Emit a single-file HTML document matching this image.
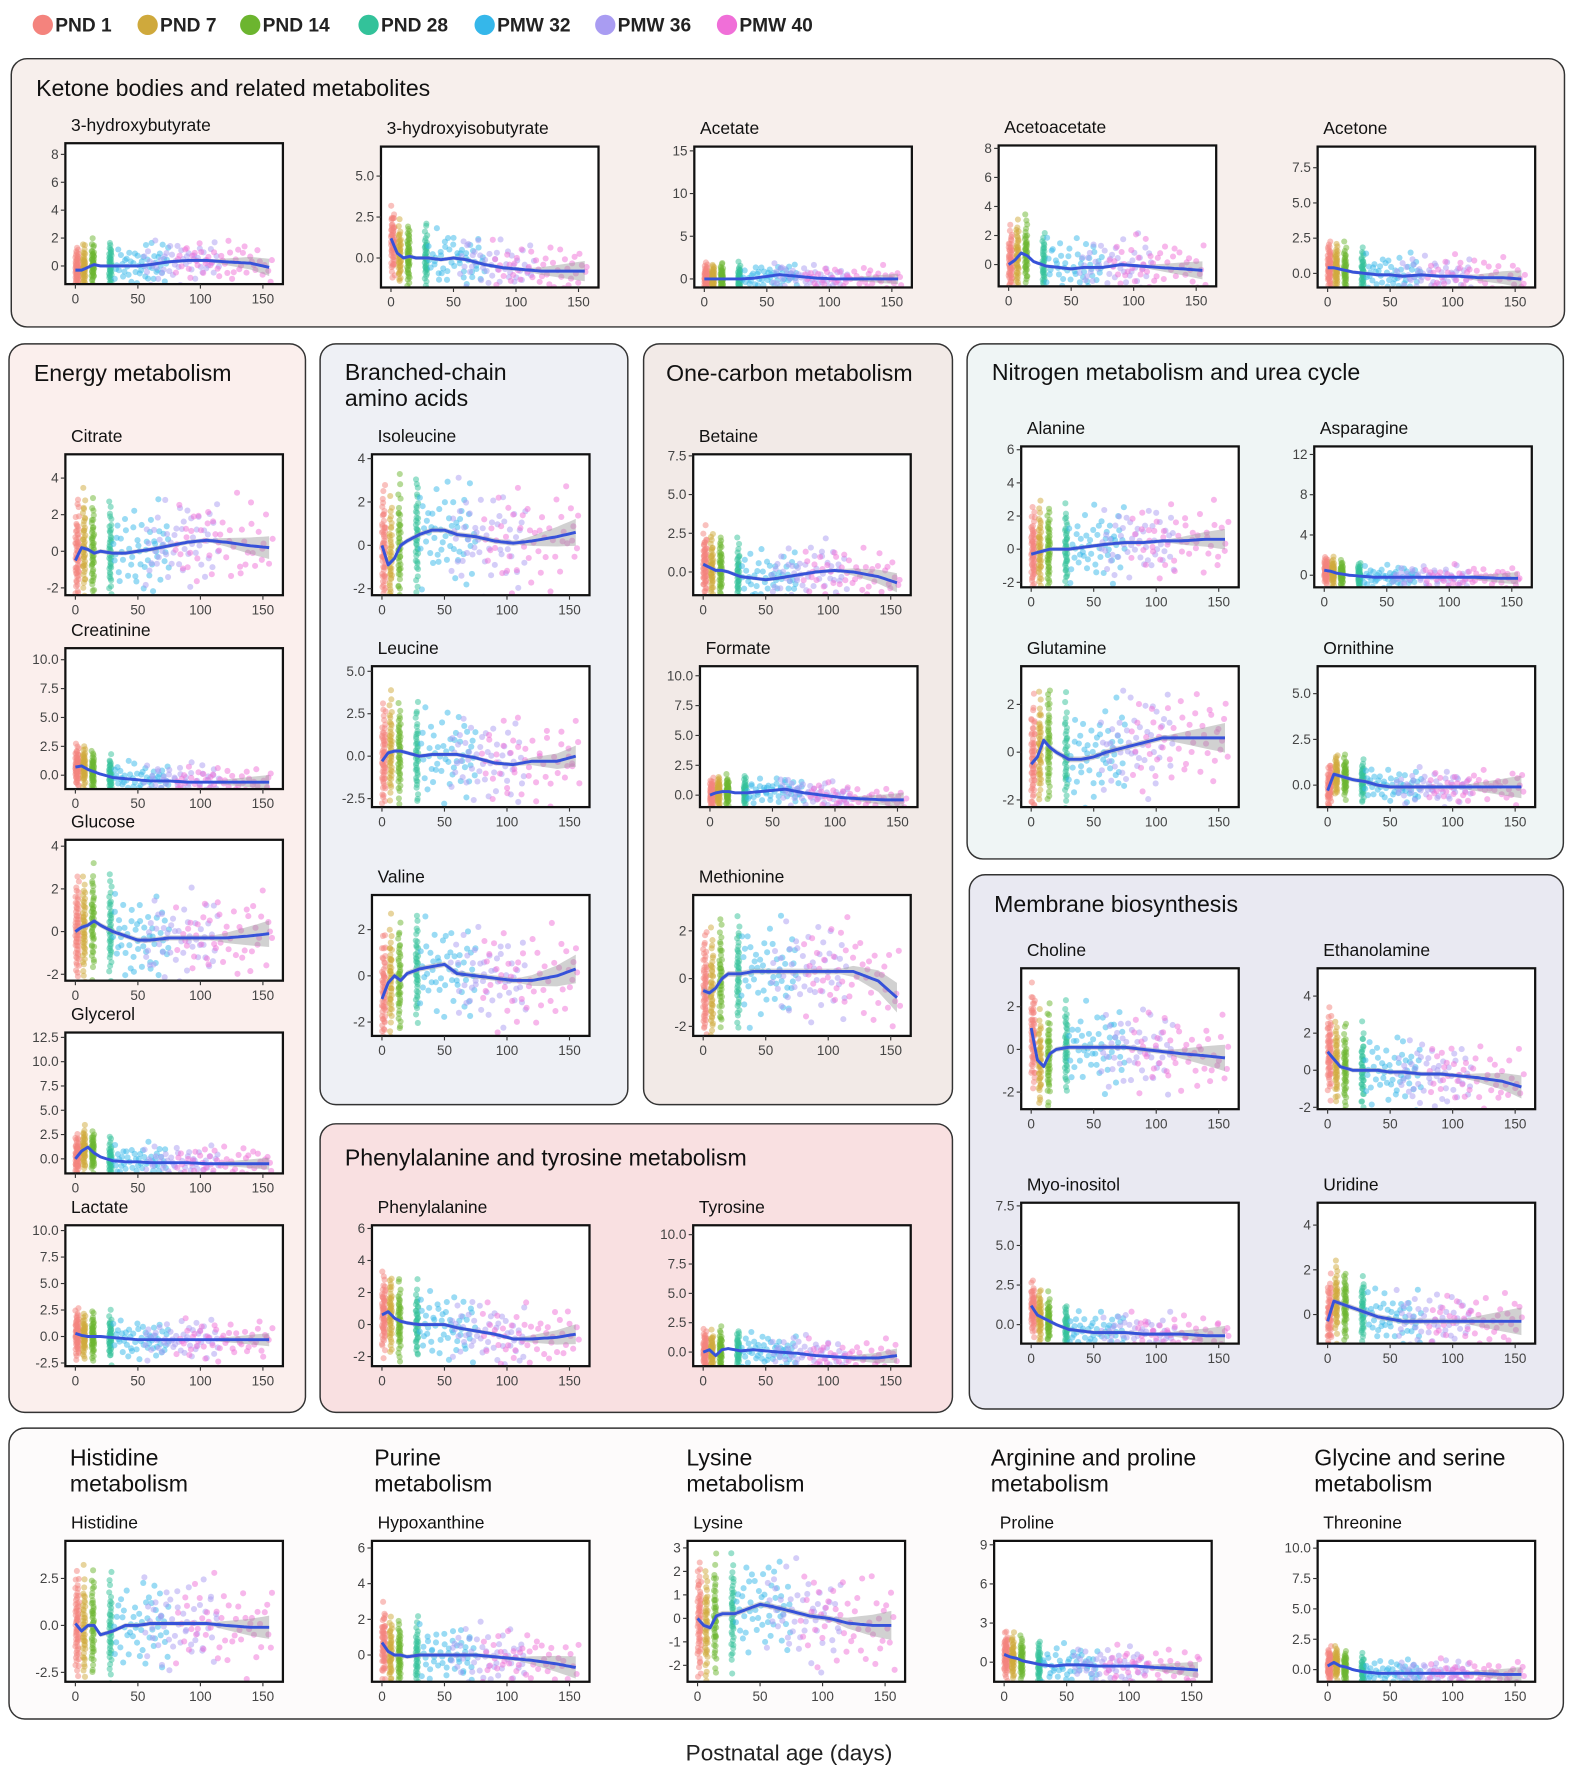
<!DOCTYPE html>
<html><head><meta charset="utf-8"><title>Metabolite trajectories</title>
<style>
html,body{margin:0;padding:0;background:#fff}
svg{display:block;font-family:"Liberation Sans",Arial,sans-serif}
</style></head>
<body>
<svg id="fig" xmlns="http://www.w3.org/2000/svg" width="1578" height="1772" viewBox="0 0 1400 1572">
<rect x="0" y="0" width="1400" height="1572" fill="#fff"/>
<g id="legend"></g>
<g id="panels"></g>
<g id="charts"></g>
<text x="700" y="1562" text-anchor="middle" font-size="20" fill="#222">Postnatal age (days)</text>
</svg>
<script>
const groupNames = ["PND 1","PND 7","PND 14","PND 28","PMW 32","PMW 36","PMW 40"];
const groupColors = ["#f4837d","#cfa93c","#6cb52f","#33c29a","#35b7ea","#a99cf2","#f06fd8"];
const groupAgeLo = [0,6,13,27,30,55,80];
const groupAgeHi = [3,8,15,29,75,115,158];
const groupCounts = [60,45,45,40,50,50,50];
const trendAges = [0,5,10,15,20,30,40,50,60,75,90,105,120,140,155];

const chartNames = ["3-hydroxybutyrate","3-hydroxyisobutyrate","Acetate","Acetoacetate","Acetone","Citrate","Creatinine","Glucose","Glycerol","Lactate","Isoleucine","Leucine","Valine","Betaine","Formate","Methionine","Phenylalanine","Tyrosine","Alanine","Asparagine","Glutamine","Ornithine","Choline","Ethanolamine","Myo-inositol","Uridine","Histidine","Hypoxanthine","Lysine","Proline","Threonine"];
const yDomains = [[-1.3,8.8],[-1.8,6.8],[-1,15.5],[-1.5,8.2],[-1,9],[-2.4,5.3],[-1.2,11],[-2.3,4.3],[-1.5,13],[-2.8,10.5],[-2.3,4.2],[-3,5.3],[-2.6,3.5],[-1.5,7.6],[-1,10.8],[-2.4,3.5],[-2.6,6.2],[-1.2,10.8],[-2.3,6.2],[-1.2,12.8],[-2.3,3.6],[-1.2,6.5],[-2.8,3.8],[-2.1,5.5],[-1.2,7.7],[-1.3,5],[-3,4.5],[-1.5,6.4],[-2.7,3.3],[-1.5,9.3],[-1,10.6]];
const yTicks = [[0,2,4,6,8],[0,2.5,5],[0,5,10,15],[0,2,4,6,8],[0,2.5,5,7.5],[-2,0,2,4],[0,2.5,5,7.5,10],[-2,0,2,4],[0,2.5,5,7.5,10,12.5],[-2.5,0,2.5,5,7.5,10],[-2,0,2,4],[-2.5,0,2.5,5],[-2,0,2],[0,2.5,5,7.5],[0,2.5,5,7.5,10],[-2,0,2],[-2,0,2,4,6],[0,2.5,5,7.5,10],[-2,0,2,4,6],[0,4,8,12],[-2,0,2],[0,2.5,5],[-2,0,2],[-2,0,2,4],[0,2.5,5,7.5],[0,2,4],[-2.5,0,2.5],[0,2,4,6],[-2,-1,0,1,2,3],[0,3,6,9],[0,2.5,5,7.5,10]];
const trends = [
[-0.3,-0.3,-0.1,0.1,0,0,0,0,0.1,0.3,0.4,0.4,0.3,0.2,-0.1],
[1.2,0.3,0,0.1,0,0,-0.1,0,-0.1,-0.4,-0.6,-0.7,-0.8,-0.8,-0.8],
[0,0,0,0,0,0,0.1,0.3,0.5,0.3,0.1,0,0,0,0],
[0,0.3,0.8,0.6,0.2,-0.1,-0.2,-0.3,-0.2,-0.2,0,-0.1,-0.2,-0.3,-0.4],
[0.4,0.4,0.3,0.2,0.1,0,-0.1,-0.1,-0.2,-0.1,-0.2,-0.2,-0.3,-0.3,-0.4],
[-0.5,0.2,0.1,-0.1,0,-0.1,-0.1,0,0.1,0.3,0.5,0.6,0.5,0.3,0.2],
[0.7,0.8,0.5,0.3,0.1,-0.2,-0.3,-0.4,-0.5,-0.5,-0.6,-0.6,-0.6,-0.6,-0.6],
[0,0.2,0.3,0.5,0.3,0,-0.2,-0.4,-0.4,-0.3,-0.3,-0.3,-0.3,-0.2,-0.1],
[0,0.8,1.2,0.6,0.2,-0.2,-0.3,-0.3,-0.4,-0.4,-0.4,-0.5,-0.5,-0.5,-0.5],
[0.3,0.1,0,0,0,-0.1,-0.2,-0.3,-0.3,-0.3,-0.3,-0.3,-0.3,-0.3,-0.3],
[0,-0.9,-0.6,0,0.2,0.5,0.7,0.7,0.5,0.4,0.2,0.1,0.2,0.4,0.6],
[-0.3,0.2,0.3,0.3,0.2,0,0.1,0.1,0.1,-0.1,-0.4,-0.5,-0.3,-0.3,0],
[-1,-0.3,0,-0.2,0.1,0.3,0.4,0.5,0.1,0,-0.1,-0.2,-0.2,0,0.3],
[0.5,0.3,0.1,0.1,0,-0.3,-0.4,-0.5,-0.4,-0.2,0,0.1,0,-0.3,-0.7],
[0,0.2,0.3,0.3,0.2,0.2,0.3,0.4,0.5,0.2,0,-0.2,-0.3,-0.4,-0.4],
[-0.5,-0.6,-0.4,0,0.2,0.2,0.3,0.3,0.3,0.3,0.3,0.3,0.3,-0.1,-0.8],
[0.6,0.8,0.4,0.2,0.1,0,0,0,-0.2,-0.4,-0.6,-0.9,-0.9,-0.8,-0.6],
[0,0.2,-0.3,0.2,0.3,0.1,0.2,0.1,0,-0.1,-0.3,-0.4,-0.5,-0.5,-0.3],
[-0.3,-0.2,-0.1,0,0,0,0.1,0.2,0.3,0.4,0.4,0.5,0.5,0.6,0.6],
[0.5,0.4,0.2,0.1,0,-0.1,-0.2,-0.2,-0.2,-0.2,-0.2,-0.2,-0.2,-0.3,-0.3],
[-0.5,-0.2,0.5,0.2,0,-0.3,-0.3,-0.2,0,0.2,0.4,0.6,0.6,0.6,0.6],
[-0.3,0.6,0.5,0.4,0.3,0.2,0,-0.1,-0.1,-0.1,-0.1,-0.1,-0.1,-0.1,-0.1],
[1,-0.5,-0.8,-0.2,0,0.1,0.1,0.1,0.1,0.1,0,-0.1,-0.2,-0.3,-0.4],
[1,0.6,0.2,0.1,0,0,0,-0.1,-0.1,-0.2,-0.2,-0.3,-0.4,-0.6,-0.9],
[1.2,0.6,0.4,0.2,0,-0.3,-0.4,-0.5,-0.5,-0.5,-0.6,-0.6,-0.6,-0.7,-0.7],
[-0.3,0.6,0.5,0.4,0.3,0.1,-0.1,-0.2,-0.3,-0.3,-0.3,-0.3,-0.3,-0.3,-0.3],
[0.1,-0.3,0,0,-0.5,-0.3,0,0,0.1,0.1,0.1,0.1,0,-0.1,-0.1],
[0.7,0.2,0,0,-0.1,0,0,0,0,0,-0.1,-0.2,-0.3,-0.5,-0.7],
[0,-0.3,-0.4,0.1,0.2,0.2,0.4,0.6,0.5,0.3,0.1,0,-0.2,-0.3,-0.3],
[0.6,0.4,0.3,0.1,0,-0.2,-0.3,-0.2,-0.2,-0.3,-0.3,-0.3,-0.4,-0.5,-0.6],
[0.3,0.6,0.3,0.2,0,-0.2,-0.3,-0.3,-0.3,-0.3,-0.3,-0.3,-0.3,-0.4,-0.4]];
const spreads = [0.8,0.9,0.8,1.1,0.8,1.3,0.8,1.1,1,1,1.3,1.4,1.1,1,0.6,1.1,1.1,0.8,1.2,0.6,1.1,0.5,1,1,0.7,0.7,1.3,0.9,1.1,0.8,0.6];

const plotBoxes = [[58,127],[338,130],[616,130],[886,129],[1169,130],
[58,403],[58,575],[58,745],[58,916],[58,1087],
[330,403],[330,591],[330,794],
[615,403],[621,591],[615,794],
[330,1087],[615,1087],
[906,396],[1166,396],[906,591],[1169,591],
[906,859],[1169,859],[906,1067],[1169,1067],
[58,1367],[330,1367],[610,1367],[882,1367],[1169,1367]];
const PW=193, PH=125;
const NS="http://www.w3.org/2000/svg";
function mk(tag, attrs, parent){const e=document.createElementNS(NS,tag);for(const k in attrs)e.setAttribute(k,attrs[k]);if(parent)parent.appendChild(e);return e;}

const leg=document.getElementById('legend');
const legX=[38,131,222,327,430,537,645];
groupNames.forEach((g,i)=>{
  const c=mk('circle',{cx:legX[i],cy:22,r:9,fill:groupColors[i]},leg);
  
  
  const t=mk('text',{x:legX[i]+11,y:28,'font-size':17,'font-weight':'bold',fill:'#222'},leg);
  t.textContent=g;
  
  
});

const panelDefs=[
 ["ketone-panel",10,52,1378,238,"#f7efec",[["Ketone bodies and related metabolites",32,85]]],
 ["energy-panel",8,305,263,948,"#fbefed",[["Energy metabolism",30,338]]],
 ["bcaa-panel",284,305,273,675,"#eef0f5",[["Branched-chain",306,337],["amino acids",306,360]]],
 ["one-carbon-panel",571,305,274,675,"#f2eae7",[["One-carbon metabolism",591,338]]],
 ["phe-tyr-panel",284,997,561,256,"#f9e0e1",[["Phenylalanine and tyrosine metabolism",306,1034]]],
 ["nitrogen-panel",858,305,529,457,"#eff5f5",[["Nitrogen metabolism and urea cycle",880,337]]],
 ["membrane-panel",860,776,527,474,"#e9e9f2",[["Membrane biosynthesis",882,809]]],
 ["bottom-panel",8,1267,1379,258,"#fdfbfb",[["Histidine",62,1300],["metabolism",62,1323],["Purine",332,1300],["metabolism",332,1323],["Lysine",609,1300],["metabolism",609,1323],["Arginine and proline",879,1300],["metabolism",879,1323],["Glycine and serine",1166,1300],["metabolism",1166,1323]]]];
const pg=document.getElementById('panels');
panelDefs.forEach(p=>{
  const r=mk('rect',{x:p[1],y:p[2],width:p[3],height:p[4],rx:14,fill:p[5],stroke:'#333','stroke-width':1.3},pg);
  
  
  p[6].forEach(t=>{
    const tx=mk('text',{x:t[1],y:t[2],'font-size':20.5,fill:'#111'},pg);
    tx.textContent=t[0];
    
    
  });
});

const XD=[-8,166];
function qnorm(u){
  const t=Math.sqrt(-2*Math.log(u<0.5?u:1-u));
  const z=t-(2.515517+0.802853*t+0.010328*t*t)/(1+1.432788*t+0.189269*t*t+0.001308*t*t*t);
  return u<0.5?-z:z;
}
function halton(i,b){let f=1,r=0;while(i>0){f/=b;r+=f*(i%b);i=Math.floor(i/b);}return r;}
function interp(arr,a){
  if(a<=trendAges[0])return arr[0];
  for(let i=1;i<trendAges.length;i++){if(a<=trendAges[i]){const f=(a-trendAges[i-1])/(trendAges[i]-trendAges[i-1]);return arr[i-1]+f*(arr[i]-arr[i-1]);}}
  return arr[arr.length-1];
}
const cg=document.getElementById('charts');
chartNames.forEach((name,ci)=>{
  const [px,py]=plotBoxes[ci];
  const slug=name.toLowerCase().replace(/[^a-z0-9]+/g,'-');
  const g=mk('g',{},cg);
  
  
  const yd=yDomains[ci];
  const xs=a=>px+(a-XD[0])/(XD[1]-XD[0])*PW;
  const ys=v=>py+PH-(v-yd[0])/(yd[1]-yd[0])*PH;
  const title=mk('text',{x:px+5,y:py-11,'font-size':15.5,fill:'#111'},g);
  title.textContent=name;
  
  
  mk('rect',{x:px,y:py,width:PW,height:PH,fill:'#fff'},g);
  const clipId='clip'+ci;
  const cp=mk('clipPath',{id:clipId},g);mk('rect',{x:px,y:py,width:PW,height:PH},cp);
  const inner=mk('g',{'clip-path':'url(#'+clipId+')'},g);
  let k=ci*37;
  groupCounts.forEach((n,gi)=>{
    for(let j=0;j<n;j++){
      k++;
      const u=halton(k,2)*0.98+0.01;
      const w=halton(k,3);
      const age=groupAgeLo[gi]+w*(groupAgeHi[gi]-groupAgeLo[gi]);
      const early=gi<4?1.15:0.95;
      const v=interp(trends[ci],age)+spreads[ci]*early*qnorm(u);
      const c=mk('circle',{cx:xs(age).toFixed(1),cy:ys(v).toFixed(1),r:2.7,fill:groupColors[gi],'fill-opacity':0.5},inner);
      
      
    }
  });
  let up='',dn='';
  for(let a=0;a<=155;a+=5){
    const v=interp(trends[ci],a);
    const wdt=0.12+(a>110?(a-110)/45*0.5:0);
    up+=(a?'L':'M')+xs(a).toFixed(1)+','+ys(v+wdt).toFixed(1);
    dn='L'+xs(a).toFixed(1)+','+ys(v-wdt).toFixed(1)+dn;
  }
  const rib=mk('path',{d:up+dn+'Z',fill:'#999','fill-opacity':0.45},inner);
  
  
  let d='';
  for(let a=0;a<=155;a+=2.5){d+=(a?'L':'M')+xs(a).toFixed(1)+','+ys(interp(trends[ci],a)).toFixed(1);}
  const ln=mk('path',{d:d,fill:'none',stroke:'#3652d9','stroke-width':2.6,'stroke-linejoin':'round'},inner);
  
  
  mk('rect',{x:px,y:py,width:PW,height:PH,fill:'none',stroke:'#111','stroke-width':2},g);
  const frac=yTicks[ci].some(t=>t%1!==0);
  yTicks[ci].forEach(t=>{
    mk('line',{x1:px-4,x2:px,y1:ys(t),y2:ys(t),stroke:'#333','stroke-width':1},g);
    const tl=mk('text',{x:px-6,y:ys(t)+4,'font-size':12,'text-anchor':'end',fill:'#444'},g);
    tl.textContent=frac?t.toFixed(1):String(t);
    
    
  });
  [0,50,100,150].forEach(t=>{
    mk('line',{x1:xs(t),x2:xs(t),y1:py+PH,y2:py+PH+4,stroke:'#333','stroke-width':1},g);
    const tl=mk('text',{x:xs(t),y:py+PH+17,'font-size':12,'text-anchor':'middle',fill:'#444'},g);
    tl.textContent=String(t);
    
    
  });
});
</script>
</body></html>
